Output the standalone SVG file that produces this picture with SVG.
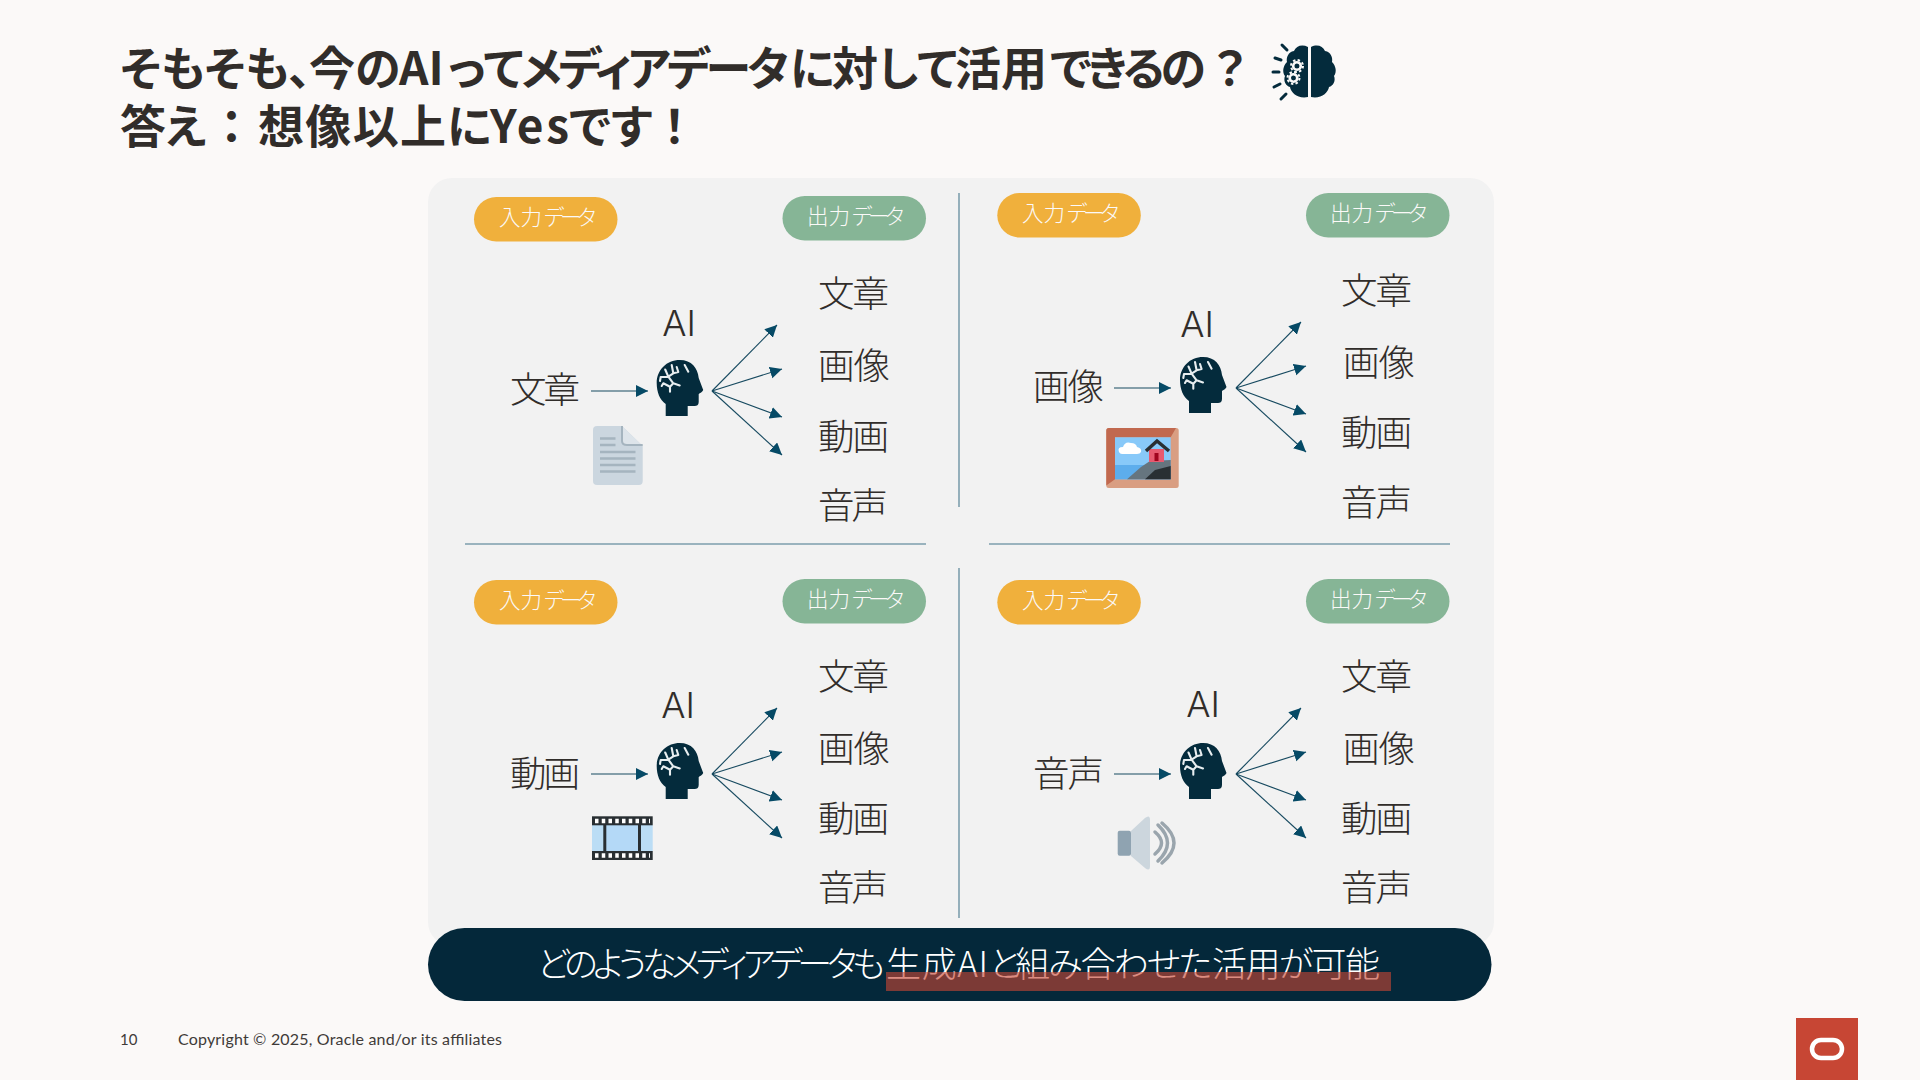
<svg xmlns="http://www.w3.org/2000/svg" width="1920" height="1080" viewBox="0 0 1920 1080">
<style>
text{font-family:"Noto Sans CJK JP","Noto Sans",sans-serif;font-feature-settings:"palt";}
.title{font-size:46px;font-weight:700;fill:#312D2A;}
.pill{font-size:21.500px;font-weight:300;fill:#FBF9F8;}
.k{letter-spacing:-4px;}
.big{font-size:36.500px;font-weight:300;fill:#312D2A;}
.ai{font-size:36px;font-weight:300;fill:#312D2A;font-family:"Inter","Noto Sans",sans-serif;}
.foot{font-size:16px;fill:#3f3b38;font-family:"Lato","Noto Sans",sans-serif;}
.in{fill:#F0B03C;}.out{fill:#86B596;}
.div{stroke:#7E9FAD;stroke-width:1.600;fill:none;}
.arr{stroke:#174A60;stroke-width:1.100;fill:none;marker-end:url(#ah);}
</style>
<defs>
<marker id="ah" markerUnits="userSpaceOnUse" markerWidth="13" markerHeight="13" refX="12" refY="6" orient="auto"><path d="M0 0L12 6L0 12Z" fill="#064A66"/></marker>
<symbol id="head" viewBox="0 0 47 56" width="47" height="56" overflow="visible">
<path d="M9 56V44C3 40 0 32 0 23C0 10 10 0 23 0C35 0 41 8 42 18L46.500 30C46 32 43 33 42 34V42C42 45 40 46 38 46H31V56Z" fill="#042B3C"/>
<path d="M15 5L16.600 13.300L11.600 16.700L16.600 23.300L23 25.500M16.600 23.300L13.300 26.700L13.300 31.700M13.300 26.700L6.600 23.300L5 26M11.600 16.700L4 17L3.300 21M8.500 9.500L11.600 16.700M16.600 13.300L21.600 12L20 7M28 5L31.600 11.700" fill="none" stroke="#E8EEF0" stroke-width="2.100" stroke-linecap="round" stroke-linejoin="round"/>
</symbol>
</defs>
<rect width="1920" height="1080" fill="#FBF9F8"/>
<rect id="panel" x="428" y="178" width="1066" height="768" rx="24" fill="#F2F2F2"/>

<g id="title">
<text class="title" y="85"><tspan x="120" y="85">そもそも、</tspan><tspan x="309">今の</tspan><tspan x="399">AI</tspan><tspan x="448">って</tspan><tspan x="521" textLength="268">メディアデータ</tspan><tspan x="790">に</tspan><tspan x="832">対して</tspan><tspan x="955">活用</tspan><tspan x="1050" textLength="156">できるの</tspan><tspan x="1214">？</tspan><tspan x="120" y="143">答え</tspan><tspan x="220">：</tspan><tspan x="258" textLength="188">想像以上</tspan><tspan x="447">に</tspan><tspan x="490" textLength="79">Yes</tspan><tspan x="569">です</tspan><tspan x="663">！</tspan></text>
</g>
<g id="title-brain">
<path d="M1308 47C1302 44 1296 46 1294 51C1288 52 1286 58 1287 62C1283 66 1282 72 1285 76C1283 81 1286 86 1290 87C1291 93 1298 99 1308 97Z" fill="#042B3C"/>
<path d="M1311 47C1317 44 1323 46 1325 51C1331 52 1333 58 1332 62C1336 66 1337 72 1334 76C1336 81 1333 86 1329 87C1328 93 1321 99 1311 97Z" fill="#042B3C"/>
<g fill="none" stroke="#FBF9F8"><circle cx="1297" cy="66" r="3.800" stroke-width="2.600"/><circle cx="1297" cy="66" r="6" stroke-width="2" stroke-dasharray="2.400 2.300"/><circle cx="1293.500" cy="78" r="3.800" stroke-width="2.600"/><circle cx="1293.500" cy="78" r="6" stroke-width="2" stroke-dasharray="2.400 2.300"/></g>
<path d="M1282 45L1287 50M1275 58L1281 60M1273 72H1279M1274 87L1280 84M1281 99L1286 94" stroke="#042B3C" stroke-width="3" stroke-linecap="round"/>
</g>

<g id="dividers">
<path class="div" d="M959 193V507M959 568V918M465 544H926M989 544H1450"/>
</g>

<g id="connectors">
<path class="arr" d="M591 391H648"/>
<path class="arr" d="M712 391L777 325"/><path class="arr" d="M712 391L782 369"/><path class="arr" d="M712 391L782 417"/><path class="arr" d="M712 391L782 455"/>
<path class="arr" d="M1114 388H1171"/>
<path class="arr" d="M1236 388L1301 322"/><path class="arr" d="M1236 388L1306 366"/><path class="arr" d="M1236 388L1306 414"/><path class="arr" d="M1236 388L1306 452"/>
<path class="arr" d="M591 774H648"/>
<path class="arr" d="M712 774L777 708"/><path class="arr" d="M712 774L782 752"/><path class="arr" d="M712 774L782 800"/><path class="arr" d="M712 774L782 838"/>
<path class="arr" d="M1114 774H1171"/>
<path class="arr" d="M1236 774L1301 708"/><path class="arr" d="M1236 774L1306 752"/><path class="arr" d="M1236 774L1306 800"/><path class="arr" d="M1236 774L1306 838"/>
</g>

<g id="q1">
<g id="q1-in"><rect class="in" x="474" y="197" width="143.500" height="44.500" rx="22.250"/><text class="pill" x="499" y="224.500">入力<tspan class="k" x="544">データ</tspan></text></g>
<g id="q1-out"><rect class="out" x="782.500" y="196" width="143.500" height="44.500" rx="22.250"/><text class="pill" x="807" y="223.500">出力<tspan class="k" x="852">データ</tspan></text></g>
<g id="q1-input"><text class="big" x="510" y="403" textLength="70">文章</text></g>
<g id="q1-ai"><text class="ai" x="679" y="336" text-anchor="middle">AI</text><use href="#head" x="656.700" y="360"/></g>
<g id="q1-o1"><text class="big" x="818" y="307" textLength="71">文章</text></g>
<g id="q1-o2"><text class="big" x="818" y="379" textLength="72">画像</text></g>
<g id="q1-o3"><text class="big" x="818" y="450" textLength="71">動画</text></g>
<g id="q1-o4"><text class="big" x="818" y="519" textLength="70">音声</text></g>
<g id="doc-icon">
<path d="M597 426H622L642.700 446V481Q642.700 485 639 485H597Q593 485 593 481V430Q593 426 597 426Z" fill="#CBD6DF"/>
<path d="M622 426L642.700 446H627Q622 446 622 441Z" fill="#DDE4EA"/>
<path d="M622 426V441Q622 445 627 445H642.700" fill="none" stroke="#A5B4BF" stroke-width="2"/>
<path d="M600 438.500H615.500M600 445H615.500M600 452H635.500M600 458.500H635.500M600 465H635.500M600 471.500H635.500" stroke="#A5B4BF" stroke-width="2.600"/>
</g>
</g>

<g id="q2">
<g id="q2-in"><rect class="in" x="997.300" y="193" width="143.500" height="44.500" rx="22.250"/><text class="pill" x="1022" y="220.500">入力<tspan class="k" x="1067">データ</tspan></text></g>
<g id="q2-out"><rect class="out" x="1306" y="193" width="143.500" height="44.500" rx="22.250"/><text class="pill" x="1330" y="220.500">出力<tspan class="k" x="1375">データ</tspan></text></g>
<g id="q2-input"><text class="big" x="1033" y="400" textLength="71">画像</text></g>
<g id="q2-ai"><text class="ai" x="1197" y="337" text-anchor="middle">AI</text><use href="#head" x="1180" y="357"/></g>
<g id="q2-o1"><text class="big" x="1341" y="304" textLength="71">文章</text></g>
<g id="q2-o2"><text class="big" x="1343" y="376" textLength="72">画像</text></g>
<g id="q2-o3"><text class="big" x="1341" y="446" textLength="71">動画</text></g>
<g id="q2-o4"><text class="big" x="1341" y="516" textLength="71">音声</text></g>
<g id="picture-icon">
<rect x="1106.300" y="428" width="72.400" height="60" rx="2.500" fill="#D99E82"/>
<path d="M1106.300 485.500V430.500Q1106.300 428 1108.800 428H1176L1170.700 437.300H1115V479.300Z" fill="#C1694F"/>
<rect x="1115" y="437.300" width="55.700" height="42" fill="#88C9F9"/>
<rect x="1115" y="465" width="55.700" height="14.300" fill="#5DADEC"/>
<path d="M1119 452Q1117 447 1123 447Q1125 441 1131 443Q1136 443 1137 447Q1142 448 1141 452Q1140 454 1137 454H1122Q1120 454 1119 452Z" fill="#fff"/>
<path d="M1127 479.300L1141 467L1150 461L1170.700 460V479.300Z" fill="#66757F"/>
<path d="M1145 479.300L1155 470L1170.700 466V479.300Z" fill="#292F33"/>
<rect x="1149" y="449" width="15" height="13" fill="#E75A70"/>
<rect x="1154.500" y="453" width="4" height="8" fill="#A0041E"/>
<path d="M1146 451L1157 441L1169 451" fill="none" stroke="#292F33" stroke-width="3.500"/>
</g>
</g>

<g id="q3">
<g id="q3-in"><rect class="in" x="474" y="580" width="143.500" height="44.500" rx="22.250"/><text class="pill" x="499" y="607.500">入力<tspan class="k" x="544">データ</tspan></text></g>
<g id="q3-out"><rect class="out" x="782.500" y="579" width="143.500" height="44.500" rx="22.250"/><text class="pill" x="807" y="606.500">出力<tspan class="k" x="852">データ</tspan></text></g>
<g id="q3-input"><text class="big" x="510" y="787" textLength="70">動画</text></g>
<g id="q3-ai"><text class="ai" x="678" y="718" text-anchor="middle">AI</text><use href="#head" x="656.700" y="743"/></g>
<g id="q3-o1"><text class="big" x="818" y="690" textLength="71">文章</text></g>
<g id="q3-o2"><text class="big" x="818" y="762" textLength="72">画像</text></g>
<g id="q3-o3"><text class="big" x="818" y="832" textLength="71">動画</text></g>
<g id="q3-o4"><text class="big" x="818" y="901" textLength="70">音声</text></g>
<g id="film-icon">
<rect x="592" y="825" width="60.700" height="26" fill="#BBDDF5"/>
<rect x="606" y="825" width="32" height="26" fill="#B4D9F7"/>
<rect x="592" y="816.300" width="60.700" height="9" fill="#292F33"/>
<rect x="592" y="851" width="60.700" height="9" fill="#292F33"/>
<path d="M604.800 825V851M639.500 825V851" stroke="#292F33" stroke-width="3"/>
<path d="M595 821H650M595 855.500H650" stroke="#fff" stroke-width="4.500" stroke-dasharray="3.500 3.250"/>
</g>
</g>

<g id="q4">
<g id="q4-in"><rect class="in" x="997.300" y="580" width="143.500" height="44.500" rx="22.250"/><text class="pill" x="1022" y="607.500">入力<tspan class="k" x="1067">データ</tspan></text></g>
<g id="q4-out"><rect class="out" x="1306" y="579" width="143.500" height="44.500" rx="22.250"/><text class="pill" x="1330" y="606.500">出力<tspan class="k" x="1375">データ</tspan></text></g>
<g id="q4-input"><text class="big" x="1033" y="787" textLength="71">音声</text></g>
<g id="q4-ai"><text class="ai" x="1203" y="717" text-anchor="middle">AI</text><use href="#head" x="1180" y="743"/></g>
<g id="q4-o1"><text class="big" x="1341" y="690" textLength="71">文章</text></g>
<g id="q4-o2"><text class="big" x="1343" y="762" textLength="72">画像</text></g>
<g id="q4-o3"><text class="big" x="1341" y="832" textLength="71">動画</text></g>
<g id="q4-o4"><text class="big" x="1341" y="901" textLength="71">音声</text></g>
<g id="speaker-icon">
<path d="M1131 831L1145 818Q1150 814 1150 820V866Q1150 872 1145 868L1131 856Z" fill="#CCD6DD"/>
<rect x="1117.700" y="830.700" width="13.300" height="25" rx="2" fill="#8FA3B1"/>
<path d="M1155 832Q1168 843 1155 854M1158 825Q1177 843 1158 861M1162 823Q1186 843 1162 863" fill="none" stroke="#9AA5AD" stroke-width="3.500" stroke-linecap="round"/>
</g>
</g>

<g id="banner">
<rect x="428" y="928" width="1063.500" height="73" rx="36.500" fill="#04283A"/>
<text y="977" font-size="35" font-weight="300" fill="#fff"><tspan x="537" textLength="348">どのようなメディアデータも</tspan><tspan x="886" textLength="102">生成AI</tspan><tspan x="989" textLength="24">と</tspan><tspan x="1015" textLength="197">組み合わせた</tspan><tspan x="1212" textLength="168">活用が可能</tspan></text>
<rect x="886" y="972" width="505" height="19" fill="#C74634" fill-opacity=".62"/>
</g>

<g id="footer">
<text class="foot" x="120" y="1045" style="font-size:15px">10</text>
<text class="foot" x="178" y="1045" textLength="324">Copyright © 2025, Oracle and/or its affiliates</text>
</g>
<g id="logo">
<rect x="1796" y="1018" width="62" height="62" fill="#C74634"/>
<rect x="1812" y="1040" width="30" height="18" rx="9" fill="none" stroke="#fff" stroke-width="4.500"/>
</g>
</svg>
